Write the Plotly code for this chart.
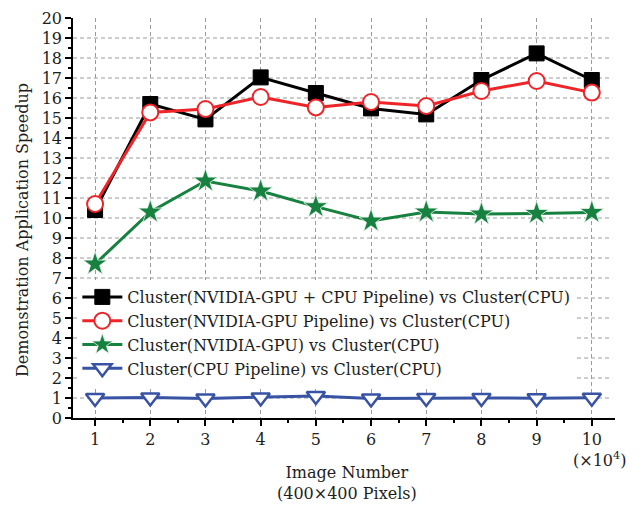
import plotly.graph_objects as go

# Image count (in units of 10^4 images)
image_number = [1, 2, 3, 4, 5, 6, 7, 8, 9, 10]

# Speedup of each configuration relative to Cluster(CPU)
gpu_cpu_pipeline = [10.4, 15.7, 14.93, 17.03, 16.25, 15.48, 15.18, 16.9, 18.23, 16.9]
gpu_pipeline = [10.7, 15.28, 15.45, 16.05, 15.53, 15.8, 15.6, 16.35, 16.85, 16.27]
gpu_only = [7.7, 10.3, 11.85, 11.35, 10.57, 9.85, 10.3, 10.2, 10.23, 10.28]
cpu_pipeline = [1.0, 1.03, 0.98, 1.03, 1.1, 0.98, 1.0, 1.0, 0.99, 1.01]

series_names = [
    "Cluster(NVIDIA-GPU + CPU Pipeline) vs Cluster(CPU)",
    "Cluster(NVIDIA-GPU Pipeline) vs Cluster(CPU)",
    "Cluster(NVIDIA-GPU) vs Cluster(CPU)",
    "Cluster(CPU Pipeline) vs Cluster(CPU)",
]

y_ticks = list(range(0, 21))
x_ticks = image_number

FONT = "DejaVu Serif"
TXT = "#1e1e1e"

fig = go.Figure()

fig.add_trace(go.Scatter(
    x=image_number, y=gpu_cpu_pipeline, name=series_names[0],
    mode="lines+markers",
    line=dict(color="black", width=3),
    marker=dict(symbol="square", size=15, color="black",
                line=dict(color="black", width=1)),
))
fig.add_trace(go.Scatter(
    x=image_number, y=gpu_pipeline, name=series_names[1],
    mode="lines+markers",
    line=dict(color="#ee2428", width=3),
    marker=dict(symbol="circle", size=16, color="white",
                line=dict(color="#ee2428", width=2)),
))
fig.add_trace(go.Scatter(
    x=image_number, y=gpu_only, name=series_names[2],
    mode="lines+markers",
    line=dict(color="#17823f", width=3),
    marker=dict(symbol="star", size=18, color="#17823f",
                line=dict(color="#e8f3ec", width=0.8)),
))
fig.add_trace(go.Scatter(
    x=image_number, y=cpu_pipeline, name=series_names[3],
    mode="lines+markers",
    line=dict(color="#3953a4", width=3),
    marker=dict(symbol="triangle-down", size=16, color="white",
                line=dict(color="#3953a4", width=2.5)),
))

# Dashed horizontal guides at the interior integer levels
for yv in y_ticks[1:-1]:
    fig.add_shape(type="line", xref="paper", yref="y",
                  x0=0, x1=0.995, y0=yv, y1=yv,
                  line=dict(color="#9a9a9a", width=1, dash="4px,3px"),
                  layer="below")

# Axis titles and the x-scale multiplier
fig.add_annotation(
    xref="paper", yref="paper", x=0.505, y=-0.163,
    xanchor="center", yanchor="middle",
    text="Image Number<br>(400×400 Pixels)", showarrow=False,
    font=dict(family=FONT, size=16, color=TXT),
)
fig.add_annotation(
    xref="paper", yref="paper", x=-0.094, y=0.47,
    xanchor="center", yanchor="middle", textangle=-90,
    text="Demonstration Application Speedup", showarrow=False,
    font=dict(family=FONT, size=16, color=TXT),
)
fig.add_annotation(
    xref="paper", yref="paper", x=1.024, y=-0.072,
    xanchor="right", yanchor="top",
    text="(×10<sup>4</sup>)", showarrow=False,
    font=dict(family=FONT, size=16, color=TXT),
)

fig.update_xaxes(
    range=[0.6, 10.42],
    tickvals=x_ticks,
    ticks="outside", ticklen=6, tickwidth=1.5, tickcolor="black",
    minor=dict(dtick=0.5, tick0=0.5, ticks="outside", ticklen=3,
               tickwidth=1.5, tickcolor="black", showgrid=False),
    showline=True, linecolor="black", linewidth=1.5,
    showgrid=True, gridcolor="#9a9a9a", gridwidth=1, griddash="4px,3px",
    zeroline=False, automargin=False,
    tickfont=dict(family=FONT, size=16, color=TXT),
)
fig.update_yaxes(
    range=[0, 20],
    tickvals=y_ticks,
    ticks="outside", ticklen=6, tickwidth=1.5, tickcolor="black",
    minor=dict(dtick=0.5, ticks="outside", ticklen=3,
               tickwidth=1.5, tickcolor="black", showgrid=False),
    showline=True, linecolor="black", linewidth=1.5,
    showgrid=False, zeroline=False, automargin=False,
    tickfont=dict(family=FONT, size=16, color=TXT),
)

fig.update_layout(
    width=643, height=515,
    margin=dict(l=73, r=28, t=18, b=97),
    plot_bgcolor="white", paper_bgcolor="white",
    font=dict(family=FONT, size=16, color=TXT),
    legend=dict(
        x=0.008, y=0.345, xanchor="left", yanchor="top",
        bgcolor="white", borderwidth=0,
        font=dict(family=FONT, size=16, color=TXT),
        tracegroupgap=0, itemwidth=40,
    ),
)

fig.write_html("out.html")
